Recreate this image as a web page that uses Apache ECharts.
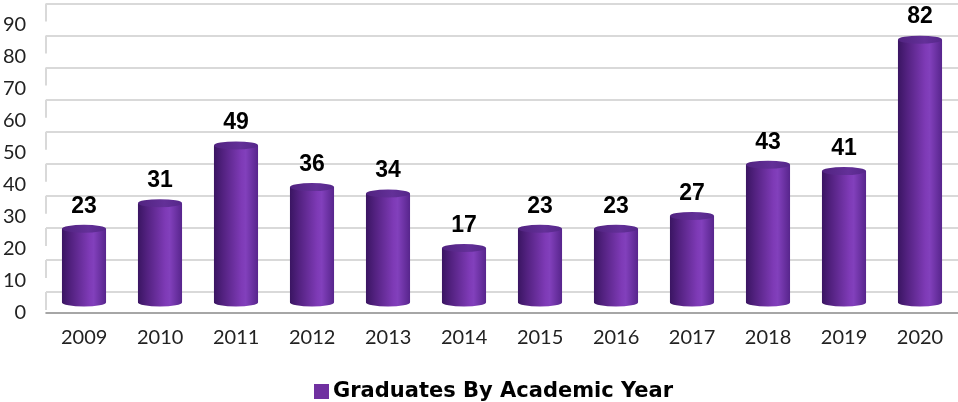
<!DOCTYPE html>
<html>
<head>
<meta charset="utf-8">
<script src="https://cdn.jsdelivr.net/npm/echarts@6/dist/echarts.min.js"></script>
<style>
html,body{margin:0;padding:0;background:#fff;}
#chart{width:958px;height:402px;}
</style>
</head>
<body>
<div id="chart"></div>
<script>
const years = ['2009','2010','2011','2012','2013','2014','2015','2016','2017','2018','2019','2020'];
const graduates = [23, 31, 49, 36, 34, 17, 23, 23, 27, 43, 41, 82];
const seriesName = 'Graduates By Academic Year';
const yMin = 0, yMax = 90, yStep = 10;
const wallTicks = [0, 10, 20, 30, 40, 50, 60, 70, 80, 90];

const LEFT = 46, WIDTH = 913;
const DEPTH = 20; // perspective offset between back wall and front plane

const bodyFill = {
  type: 'linear', x: 0, y: 0, x2: 1, y2: 0,
  colorStops: [
    {offset: 0, color: '#3a1562'},
    {offset: 0.2, color: '#52217f'},
    {offset: 0.62, color: '#7e3ab6'},
    {offset: 0.72, color: '#8240bc'},
    {offset: 1, color: '#57258c'}
  ]
};
const capFill = {
  type: 'linear', x: 0, y: 0, x2: 1, y2: 0,
  colorStops: [
    {offset: 0, color: '#512380'},
    {offset: 0.6, color: '#633098'},
    {offset: 1, color: '#55278a'}
  ]
};

function renderCylinder(params, api) {
  const cat = api.value(0);
  const val = api.value(1);
  const top = api.coord([cat, val]);
  const base = api.coord([cat, 0]);
  const w = api.size([1, 0])[0] * 0.58;
  const rx = w / 2, ry = 4;
  const x0 = top[0] - rx, x1 = top[0] + rx;
  const body = 'M' + x0 + ',' + top[1] + ' L' + x0 + ',' + base[1] +
    ' A' + rx + ',' + ry + ' 0 0 0 ' + x1 + ',' + base[1] +
    ' L' + x1 + ',' + top[1] + ' Z';
  const cap = 'M' + x0 + ',' + top[1] +
    ' A' + rx + ',' + ry + ' 0 1 0 ' + x1 + ',' + top[1] +
    ' A' + rx + ',' + ry + ' 0 1 0 ' + x0 + ',' + top[1] + ' Z';
  return {
    type: 'group',
    children: [
      {type: 'path', shape: {pathData: body}, style: {fill: bodyFill}},
      {type: 'path', shape: {pathData: cap}, style: {fill: capFill}},
      {type: 'text', style: {
        text: String(val), x: top[0], y: top[1] - ry - 7,
        align: 'center', verticalAlign: 'bottom',
        textAlign: 'center', textVerticalAlign: 'bottom',
        font: 'bold 23px "Liberation Sans", Arial, sans-serif', fill: '#000'
      }}
    ]
  };
}

function renderWallEdge(params, api) {
  const p = api.coord([0, api.value(0)]);
  const x = params.coordSys.x;
  return {
    type: 'line',
    shape: {x1: x, y1: p[1], x2: x, y2: p[1] + DEPTH - 2},
    style: {stroke: '#d9d9d9', lineWidth: 2}
  };
}

const chart = echarts.init(document.getElementById('chart'), null, {renderer: 'canvas'});
chart.setOption({
  animation: false,
  backgroundColor: '#ffffff',
  grid: [
    {left: LEFT, width: WIDTH, top: 24.5, height: 288.5},         // front plane (labels)
    {left: LEFT, width: WIDTH, top: 3.5, height: 288.5},          // back wall
    {left: LEFT, width: WIDTH, top: 14, height: 288.5}            // bars (mid depth)
  ],
  xAxis: [
    {type: 'category', gridIndex: 0, data: years, boundaryGap: true,
     axisLine: {show: true, lineStyle: {color: '#a6a6a6', width: 2}},
     axisTick: {show: false},
     axisLabel: {margin: 15, color: '#222', fontFamily: 'Lato', fontSize: 20}},
    {type: 'category', gridIndex: 1, data: years, show: false},
    {type: 'category', gridIndex: 2, data: years, show: false}
  ],
  yAxis: [
    {type: 'value', gridIndex: 0, min: yMin, max: yMax, interval: yStep,
     axisLine: {show: false}, axisTick: {show: false}, splitLine: {show: false},
     axisLabel: {margin: 20, color: '#222', fontFamily: 'Lato', fontSize: 20}},
    {type: 'value', gridIndex: 1, min: yMin, max: yMax, interval: yStep,
     axisLine: {show: false}, axisTick: {show: false}, axisLabel: {show: false},
     splitLine: {show: true, lineStyle: {color: '#d9d9d9', width: 2}}},
    {type: 'value', gridIndex: 2, min: yMin, max: yMax, interval: yStep, show: false,
     splitLine: {show: false}}
  ],
  legend: {
    left: 309, top: 376,
    data: [seriesName],
    icon: 'rect', itemWidth: 15, itemHeight: 15, itemGap: 10,
    textStyle: {fontFamily: '"DejaVu Sans"', fontWeight: 'bold', fontSize: 21, color: '#000', padding: [0, 0, 0, -1]}
  },
  series: [
    {
      type: 'custom', name: '_wall', xAxisIndex: 1, yAxisIndex: 1,
      data: wallTicks.map(v => [v]),
      encode: {y: 0},
      renderItem: renderWallEdge, silent: true, z: 1
    },
    {
      type: 'custom', name: seriesName, xAxisIndex: 2, yAxisIndex: 2,
      itemStyle: {color: '#7030a0'},
      data: years.map((y, i) => [y, graduates[i]]),
      encode: {x: 0, y: 1},
      renderItem: renderCylinder, z: 5
    }
  ]
});
</script>
</body>
</html>
